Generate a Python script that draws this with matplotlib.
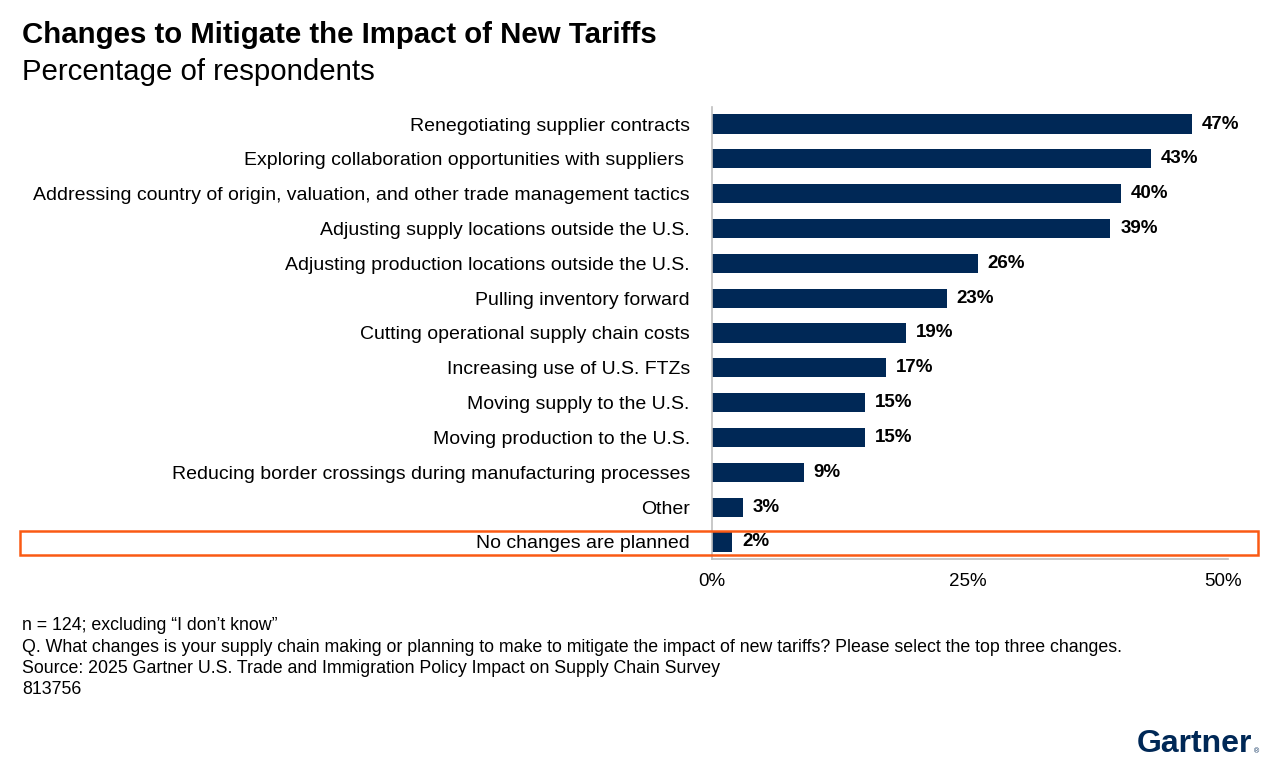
import matplotlib
matplotlib.use("Agg")
import matplotlib.pyplot as plt
from matplotlib.patches import Rectangle
from matplotlib.ticker import FuncFormatter

plt.rcParams["font.family"] = ["Liberation Sans", "DejaVu Sans"]

# ─── Data ────────────────────────────────────────────────────
categories = [
    "Renegotiating supplier contracts",
    "Exploring collaboration opportunities with suppliers ",
    "Addressing country of origin, valuation, and other trade management tactics",
    "Adjusting supply locations outside the U.S.",
    "Adjusting production locations outside the U.S.",
    "Pulling inventory forward",
    "Cutting operational supply chain costs",
    "Increasing use of U.S. FTZs",
    "Moving supply to the U.S.",
    "Moving production to the U.S.",
    "Reducing border crossings during manufacturing processes",
    "Other",
    "No changes are planned",
]
values = [47, 43, 40, 39, 26, 23, 19, 17, 15, 15, 9, 3, 2]
x_ticks = [0, 25, 50]

title = "Changes to Mitigate the Impact of New Tariffs"
subtitle = "Percentage of respondents"
footnotes = [
    "n = 124; excluding \u201cI don\u2019t know\u201d",
    "Q. What changes is your supply chain making or planning to make to mitigate the impact of new tariffs? Please select the top three changes.",
    "Source: 2025 Gartner U.S. Trade and Immigration Policy Impact on Supply Chain Survey",
    "813756",
]

NAVY = "#002856"
ORANGE = "#FA5A14"
AXIS = "#BFBFBF"

W, H = 1280, 770
fig = plt.figure(figsize=(W / 100, H / 100), dpi=100)

# axes placed in pixel terms of the reference
left, right = 712, 1228
top, bottom = 106.6, 559.4
ax = fig.add_axes([left / W, 1 - bottom / H, (right - left) / W, (bottom - top) / H])

ypos = list(range(len(categories)))
ax.barh(ypos, values, height=0.55, color=NAVY)
ax.set_ylim(len(categories) - 0.5, -0.5)
ax.set_xlim(0, 50.5)

for y, v in zip(ypos, values):
    ax.annotate(f"{v}%", (v, y), xytext=(7, 0), textcoords="offset points",
                va="center", ha="left", fontsize=13.5, fontweight="bold", color="black")

ax.set_yticks(ypos)
ax.set_yticklabels(categories, fontsize=14)
ax.set_xticks(x_ticks)
ax.xaxis.set_major_formatter(FuncFormatter(lambda v, _: f"{v:.0f}%"))
ax.tick_params(axis="y", length=0, pad=16)
ax.tick_params(axis="x", length=0, pad=10, labelsize=13.5)

for s in ["top", "right"]:
    ax.spines[s].set_visible(False)
for s in ["left", "bottom"]:
    ax.spines[s].set_color(AXIS)
    ax.spines[s].set_linewidth(1.2)

# highlight box around the last row
fig.patches.append(Rectangle((20 / W, 1 - 555 / H), (1258 - 20) / W, 24 / H,
                             transform=fig.transFigure, fill=False,
                             edgecolor=ORANGE, linewidth=1.8))

fig.text(22 / W, 1 - 35 / H, title, fontsize=21.2, fontweight="bold", va="center")
fig.text(22 / W, 1 - 72 / H, subtitle, fontsize=21.2, va="center")

for i, line in enumerate(footnotes):
    fig.text(22 / W, 1 - (626 + i * 21.3) / H, line, fontsize=12.8, va="center")

fig.text(1252 / W, 1 - 744 / H, "Gartner", fontsize=23, fontweight="bold",
         color=NAVY, ha="right", va="center")
fig.text(1256 / W, 1 - 752 / H, "\u00ae", fontsize=5, color=NAVY, ha="center", va="center")

fig.savefig("out.png", dpi=100)
